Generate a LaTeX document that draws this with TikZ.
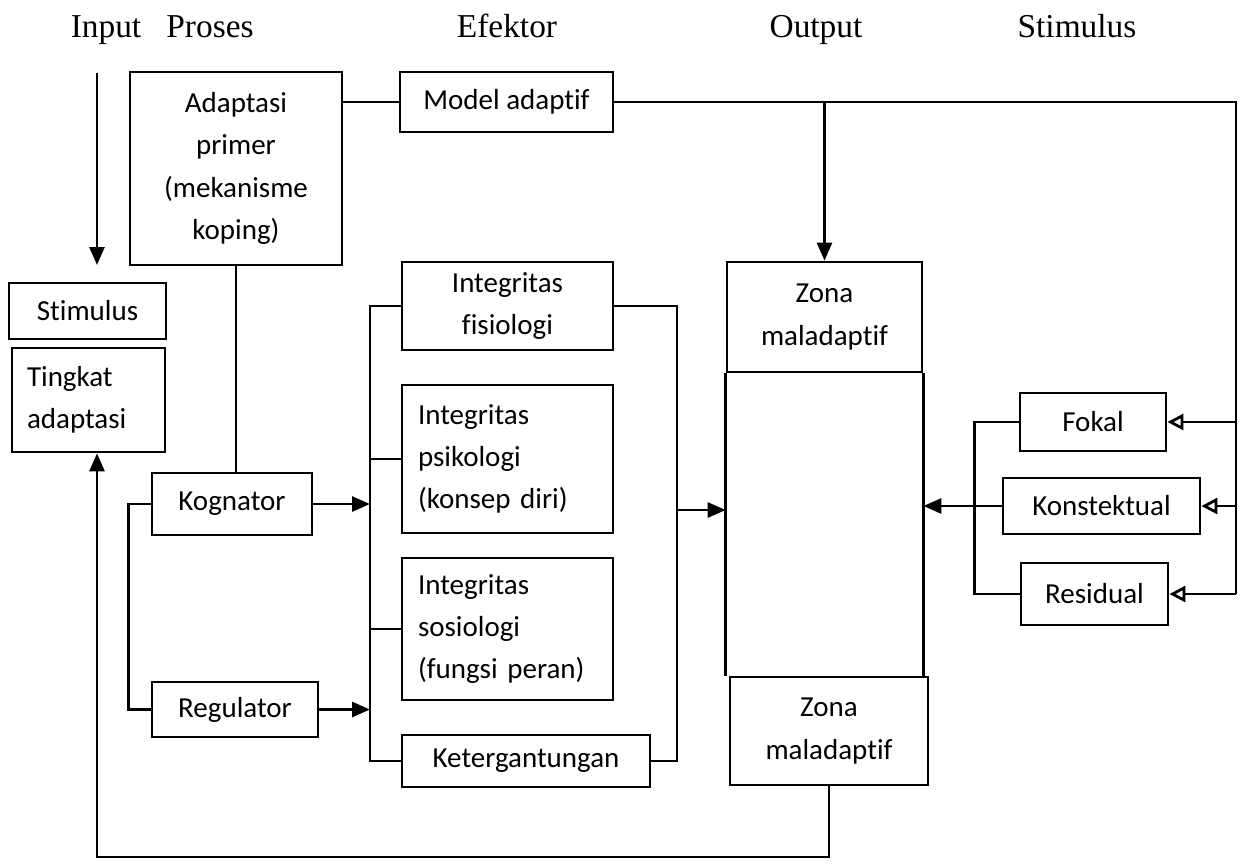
\documentclass[tikz,border=0pt]{standalone}
\usepackage{fontspec}
\setmainfont{Carlito}[Ligatures=NoCommon]
\newfontfamily\headfont{Liberation Serif}
\usetikzlibrary{arrows.meta, positioning, calc}

\begin{document}
\begin{tikzpicture}[
    x=0.02cm, y=-0.02cm,
    font=\fontsize{16.5}{24}\selectfont,
    block/.style={rectangle, draw, line width=1.6pt, inner sep=0pt, align=center},
    lblock/.style={rectangle, draw, line width=1.6pt, inner ysep=0pt, inner xsep=0.32cm, align=left},
    head/.style={font=\headfont\fontsize{19}{22}\selectfont, anchor=base},
    line/.style={line width=1.6pt},
    arrow/.style={line width=1.6pt, -{Triangle[length=0.36cm, width=0.3cm]}},
    oarrow/.style={line width=1.6pt, -{Triangle[open, length=0.32cm, width=0.32cm]}}]

    \useasboundingbox (0,0) rectangle (1243,865);

    \node[head] (hinput) at (106,38) {Input};
    \node[head] (hproses) at (210,38) {Proses};
    \node[head] (hefektor) at (507,38) {Efektor};
    \node[head] (houtput) at (816,38) {Output};
    \node[head] (hstimulus) at (1077,38) {Stimulus};

    \node[block, minimum width=4.24cm, minimum height=3.86cm] (adaptasi) at (236,168.5) {Adaptasi\\primer\\(mekanisme\\koping)};
    \node[block, minimum width=4.26cm, minimum height=1.2cm] (model) at (506.5,102) {Model adaptif};

    \node[block, minimum width=3.14cm, minimum height=1.12cm] (stimin) at (87.5,311) {Stimulus};
    \node[lblock, text width=2.46cm, inner xsep=0.3cm, minimum height=2.08cm] (tingkat) at (88.5,400) {Tingkat\\adaptasi};

    \node[block, minimum width=3.2cm, minimum height=1.24cm] (kog) at (232,504) {Kognator};
    \node[block, minimum width=3.32cm, minimum height=1.1cm] (reg) at (235,709.5) {Regulator};

    \node[block, minimum width=4.22cm, minimum height=1.76cm] (fisio) at (507.5,306) {Integritas\\fisiologi};
    \node[lblock, text width=3.58cm, minimum height=2.96cm] (psiko) at (507.5,459) {Integritas\\psikologi\\(konsep diri)};
    \node[lblock, text width=3.58cm, minimum height=2.84cm] (sos) at (507.5,629) {Integritas\\sosiologi\\(fungsi peran)};
    \node[block, minimum width=4.96cm, minimum height=1.04cm] (ket) at (526,761) {Ketergantungan};

    \node[block, minimum width=3.9cm, minimum height=2.2cm] (zonaA) at (824.5,317) {Zona\\maladaptif};
    \node[block, minimum width=3.96cm, minimum height=2.16cm] (zonaB) at (829,731) {Zona\\maladaptif};

    \node[block, minimum width=2.92cm, minimum height=1.16cm] (fokal) at (1093,422) {Fokal};
    \node[block, minimum width=3.94cm, minimum height=1.12cm] (konst) at (1101.5,506) {Konstektual};
    \node[block, minimum width=2.94cm, minimum height=1.24cm] (res) at (1094.5,594) {Residual};

    \coordinate (inTop) at (97,73);
    \coordinate (inBot) at (97,265);
    \coordinate (busL) at (370,510);
    \coordinate (busR) at (677,510);
    \coordinate (trunk) at (1236,102);
    \coordinate (fbL) at (97,857);

    \draw[arrow] (inTop) -- (inBot);

    \draw[line] (model.west -| adaptasi.east) -- (model.west);
    \draw[line] (adaptasi.south) -- (adaptasi.south |- kog.north);
    \draw[line] (kog.west) -- ++(-22,0) |- (reg.west);
    \draw[arrow] (kog.east) -- (kog.east -| busL);
    \draw[arrow] (reg.east) -- (reg.east -| busL);

    \draw[line] (fisio.west) -- (fisio.west -| busL) -- (ket.west -| busL) -- (ket.west);
    \draw[line] (psiko.west) -- (psiko.west -| busL);
    \draw[line] (sos.west) -- (sos.west -| busL);

    \draw[line] (fisio.east) -| (busR |- ket.east) -- (ket.east);
    \draw[arrow] (busR) -- (busR -| zonaA.west);

    \draw[line] (zonaA.south west) -- (zonaA.south west |- zonaB.north);
    \draw[line] (zonaA.south east) -- (zonaA.south east |- zonaB.north);

    \draw[line] (model.east) -- (trunk) -- (trunk |- res.east);
    \draw[arrow] (model.east -| zonaA.north) -- (zonaA.north);
    \draw[oarrow] (trunk |- fokal.east) -- (fokal.east);
    \draw[oarrow] (trunk |- konst.east) -- (konst.east);
    \draw[oarrow] (trunk |- res.east) -- (res.east);

    \draw[line] (fokal.west) -- ++(-44,0) |- (res.west);
    \draw[arrow] (konst.west) -- (konst.west -| zonaA.east);

    \draw[arrow] (zonaB.south) |- (fbL) -- (fbL |- tingkat.south);
\end{tikzpicture}
\end{document}
